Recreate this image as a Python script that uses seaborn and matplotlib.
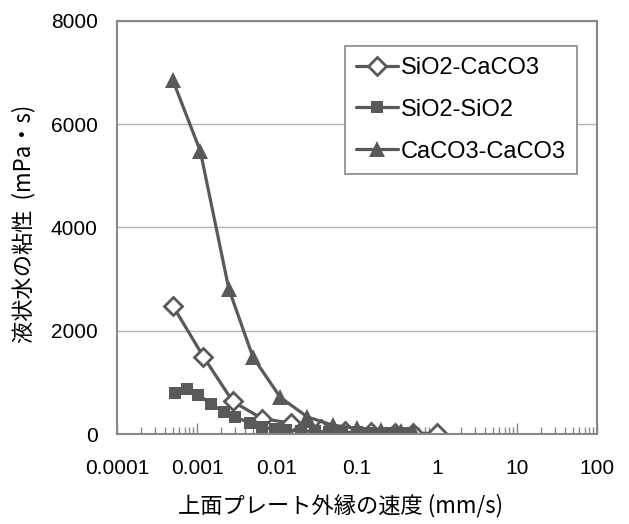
import matplotlib
matplotlib.use("Agg")
import matplotlib.pyplot as plt
import seaborn as sns
import pandas as pd
import numpy as np
from matplotlib.ticker import LogLocator, FixedLocator, NullFormatter

sns.set_theme(style="white")
plt.rcParams['font.family'] = ['Liberation Sans', 'Noto Sans CJK JP', 'DejaVu Sans']
plt.rcParams['text.color'] = 'black'
plt.rcParams['xtick.color'] = 'black'
plt.rcParams['ytick.color'] = 'black'
plt.rcParams['axes.labelcolor'] = 'black'

# Data
x_sc = [0.0005, 0.0012, 0.0028, 0.0065, 0.015, 0.035, 0.07, 0.15, 0.3, 0.5, 1.0]
y_sc = [2480, 1500, 630, 300, 210, 100, 60, 40, 25, 15, 10]

x_ss = [0.00053, 0.00074, 0.00104, 0.0015, 0.0022, 0.003, 0.0046, 0.0065, 0.0094,
        0.013, 0.02, 0.03, 0.045, 0.065, 0.1, 0.15, 0.22, 0.3, 0.45]
y_ss = [790, 870, 760, 580, 420, 320, 220, 130, 100, 80, 60, 50, 40, 35, 30, 25, 20, 20, 20]

x_cc = [0.0005, 0.0011, 0.0025, 0.005, 0.011, 0.024, 0.05, 0.1, 0.2, 0.35, 0.5]
y_cc = [6850, 5480, 2810, 1490, 710, 330, 170, 110, 80, 60, 50]

labels = ["SiO2-CaCO3", "SiO2-SiO2", "CaCO3-CaCO3"]
xticks = [0.0001, 0.001, 0.01, 0.1, 1, 10, 100]
xtick_labels = ["0.0001", "0.001", "0.01", "0.1", "1", "10", "100"]
yticks = [0, 2000, 4000, 6000, 8000]

df = pd.concat([
    pd.DataFrame({"x": x_sc, "y": y_sc, "s": labels[0]}),
    pd.DataFrame({"x": x_ss, "y": y_ss, "s": labels[1]}),
    pd.DataFrame({"x": x_cc, "y": y_cc, "s": labels[2]}),
])

col = "#595959"
fig = plt.figure(figsize=(6.29, 5.24), dpi=100)
ax = fig.add_axes([117/629, (524-434)/524, (597-117)/629, (434-21)/524])

styles = {
    labels[0]: dict(marker="D", mfc="white", ms=9.5, mew=2),
    labels[1]: dict(marker="s", mfc=col, ms=8.5, mew=0),
    labels[2]: dict(marker="^", mfc=col, ms=11, mew=0),
}
for lab in labels:
    sub = df[df.s == lab]
    sns.lineplot(data=sub, x="x", y="y", ax=ax, color=col, lw=2.3,
                 mec=col, label=lab, sort=False, estimator=None, **styles[lab])

ax.set_xscale("log")
ax.set_xlim(1e-4, 100)
ax.set_ylim(0, 8000)
ax.xaxis.set_major_locator(FixedLocator(xticks))
ax.set_xticklabels(xtick_labels)
ax.xaxis.set_minor_locator(LogLocator(base=10, subs=np.arange(2, 10)))
ax.xaxis.set_minor_formatter(NullFormatter())
ax.set_yticks(yticks)
ax.set_yticklabels([str(v) for v in yticks])
ax.yaxis.grid(True, color="#b3b3b3", lw=1)
ax.xaxis.grid(False)
ax.tick_params(axis="x", which="major", direction="in", length=8, width=1, color="#888888",
               labelsize=15, pad=18, bottom=True)
ax.tick_params(axis="x", which="minor", direction="in", length=5, width=1, color="#888888",
               bottom=True)
ax.tick_params(axis="y", length=0, labelsize=15, pad=14)
for sp in ax.spines.values():
    sp.set_color("#888888")
    sp.set_linewidth(1.5)

ax.set_xlabel("上面プレート外縁の速度 (mm/s)", fontsize=16,
              family=['Noto Sans CJK JP', 'DejaVu Sans'])
ax.set_ylabel("液状水の粘性  (mPa・s)", fontsize=16,
              family=['Noto Sans CJK JP', 'DejaVu Sans'])
ax.xaxis.set_label_coords(0.465, -0.145)
ax.yaxis.set_label_coords(-0.17, 0.508)

leg = ax.legend(loc="upper right", bbox_to_anchor=(0.958, 0.94), fontsize=17,
                frameon=True, fancybox=False, edgecolor="#888888", framealpha=1,
                handlelength=1.8, handletextpad=0.1, borderpad=0.47, labelspacing=0.84,
                borderaxespad=0)
leg.get_frame().set_linewidth(1.2)

fig.savefig("out.png", dpi=100, facecolor="white")
